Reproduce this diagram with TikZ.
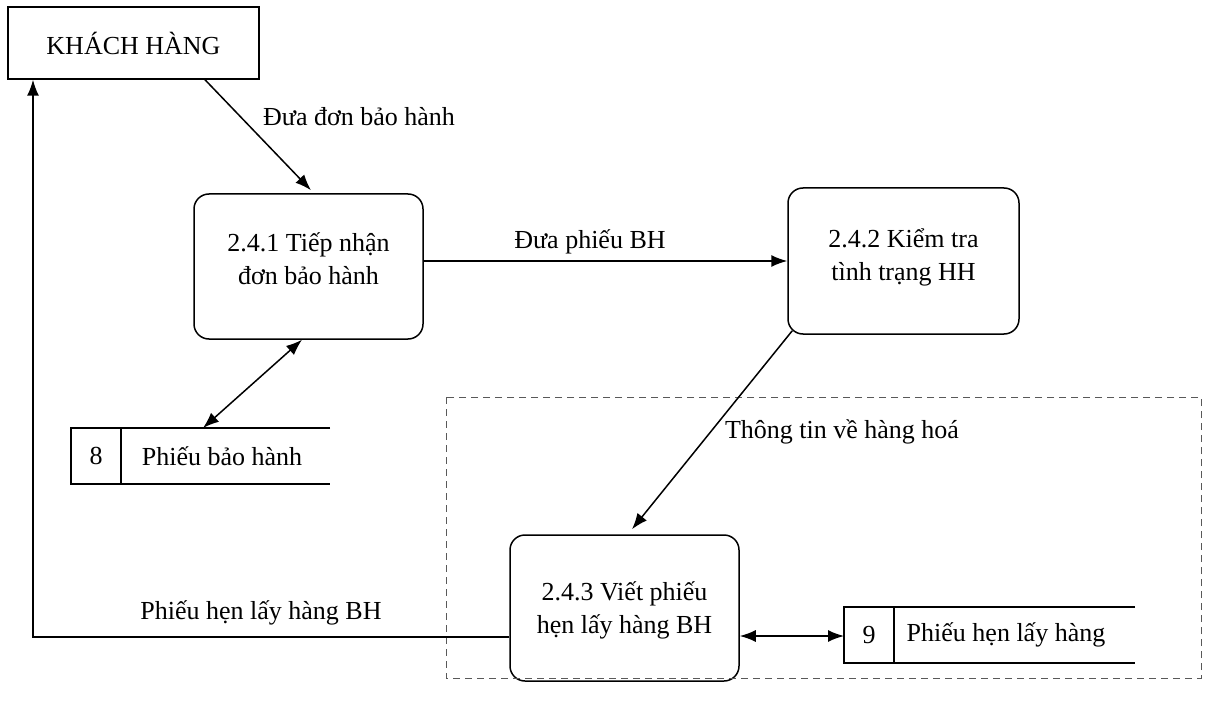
\documentclass[tikz,border=0pt]{standalone}
\usepackage{fontspec}
\setmainfont{Liberation Serif}
\usetikzlibrary{arrows.meta,calc}
\begin{document}
\begin{tikzpicture}[x=1pt,y=-1pt,
  font=\fontsize{26}{33}\selectfont,
  line width=1.5pt,
  ext/.style={draw,rectangle,minimum width=251pt,minimum height=72pt,inner sep=0pt},
  proc/.style={draw,rectangle,rounded corners=15pt,minimum width=229pt,minimum height=145pt,inner sep=0pt},
  txt/.style={align=center,inner sep=0pt},
  flow/.style={-{Latex[length=16pt,width=12pt]}},
  both/.style={{Latex[length=16pt,width=12pt]}-{Latex[length=16pt,width=12pt]}},
  lbl/.style={inner sep=0pt},
  group/.style={draw=black!65,line width=1pt,dash pattern=on 7pt off 5pt}
]
\useasboundingbox (0,0) rectangle (1206,708);
\fill[white] (0,0) rectangle (1206,708);

% external entity
\node[ext] (kh) at (133.5,43) {KHÁCH HÀNG};

% processes
\node[proc] (p1) at (308.5,266.5) {};
\node[txt] (p1t) at ([yshift=8pt]p1.center) {2.4.1 Tiếp nhận\\đơn bảo hành};
\node[proc,minimum width=231pt,minimum height=146pt] (p2) at (903.5,261) {};
\node[txt] (p2t) at ([yshift=4pt]p2.center) {2.4.2 Kiểm tra\\tình trạng HH};
\node[proc,minimum height=146pt] (p3) at (624.5,608) {};
\node[txt] (p3t) at ([yshift=-2pt]p3.center) {2.4.3 Viết phiếu\\hẹn lấy hàng BH};

% data store 8
\draw (330,428) -- (71,428) -- (71,484) -- (330,484);
\draw (121,428) -- (121,484);
\node[lbl] (s8n) at (96,456) {8};
\node[lbl] (s8t) at (222,456) {Phiếu bảo hành};
\coordinate (s8top) at (203,428);

% data store 9
\draw (1135,607) -- (844,607) -- (844,663) -- (1135,663);
\draw (894,607) -- (894,663);
\node[lbl] (s9n) at (869,635) {9};
\node[lbl] (s9t) at (1006,635) {Phiếu hẹn lấy hàng};
\coordinate (s9left) at (844,636);

% dashed boundary
\draw[group] (446,397) rectangle (1201,678);

% flows
\draw[flow] ([xshift=71.5pt]kh.south) -- ([xshift=2.5pt,yshift=3pt]p1.north);
\node[lbl] (l1) at (359,117) {Đưa đơn bảo hành};

\draw[flow] (p2.west -| p1.east) -- (p2.west);
\node[lbl] (l2) at (590,242) {Đưa phiếu BH};

\draw[both] ([xshift=-6.5pt]p1.south) -- (s8top);

\draw[flow] ([xshift=5pt,yshift=4pt]p2.south west) -- ([xshift=7.5pt,yshift=5pt]p3.north);
\node[lbl] (l3) at (842,432) {Thông tin về hàng hoá};

\draw[both] (p3.east |- s9left) -- (s9left);

\draw[flow] ([yshift=-29pt]p3.west) -| ([xshift=-100.5pt]kh.south);
\node[lbl] (l4) at (261,613) {Phiếu hẹn lấy hàng BH};
\end{tikzpicture}
\end{document}
